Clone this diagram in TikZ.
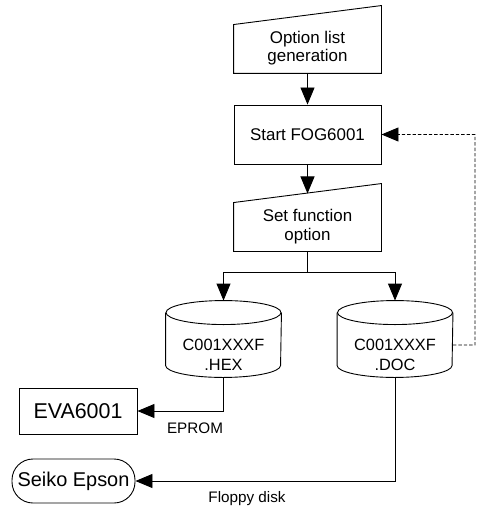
\documentclass[tikz,border=0pt]{standalone}
\usepackage{fontspec}
\setmainfont{Liberation Sans}
\usetikzlibrary{arrows.meta}
\tikzset{
  box/.style={draw=none, minimum width=147bp, inner sep=0pt, align=center, font=\fontsize{17}{18.5}\selectfont},
  cyl/.style={draw=none, minimum width=115bp, minimum height=76bp, inner sep=0pt},
  cyltext/.style={align=center, inner sep=0pt, font=\fontsize{16.4}{20}\selectfont},
  lbl/.style={inner sep=0pt, font=\fontsize{15.3}{17}\selectfont},
  arr/.style={-{Triangle[length=17bp,width=14bp]}},
  dsh/.style={dash pattern=on 3.4bp off 2bp},
}
\begin{document}
\begin{tikzpicture}[x=1bp,y=-1bp,line width=0.9bp,line join=miter]
\useasboundingbox (0,0) rectangle (481,508);
% option list generation
\node[box, minimum height=50bp] (opt) at (307.5,48) {Option list\\generation};
\draw ([yshift=-2bp]opt.north west) -- ([yshift=17bp]opt.north east) -- (opt.south east) -- (opt.south west) -- cycle;
% start
\node[box, draw, minimum height=59bp] (start) at (307.5,134.5) {Start FOG6001};
% set function option
\node[box, minimum height=49bp] (setf) at (307.5,226.5) {Set function\\option};
\draw ([yshift=-1bp]setf.north west) -- ([yshift=18bp]setf.north east) -- (setf.south east) -- (setf.south west) -- cycle;
\coordinate (setin) at (307.5,193.5);
% cylinders
\node[cyl] (hex) at (223.5,339) {};
\node[cyl] (doc) at (395,339) {};
\foreach \c in {hex,doc}{
  \draw ([yshift=-12bp]\c.north west) -- ([yshift=12bp]\c.south west)
        arc[start angle=180,end angle=360,x radius=57.5bp,y radius=12bp]
        -- ([yshift=-12bp]\c.north east);
  \draw ([yshift=-12bp]\c.north) ellipse[x radius=57.5bp,y radius=12bp];
}
\node[cyltext] (hext) at (223.5,355) {C001XXXF\\.HEX};
\node[cyltext] (doct) at (395,355) {C001XXXF\\.DOC};
% targets
\node[draw, minimum width=118bp, minimum height=46bp, inner sep=0pt, font=\fontsize{21.5}{24}\selectfont] (eva) at (78,411) {EVA6001};
\node[draw, rounded corners=21bp, minimum width=123bp, minimum height=44bp, inner sep=0pt, font=\fontsize{20}{22}\selectfont] (seiko) at (73.5,481) {Seiko Epson};
% connectors
\draw[arr] (opt.south) -- (start.north);
\draw[arr] (start.south) -- (setin);
\coordinate (br) at (307.5,272);
\draw (setf.south) -- (br);
\draw[arr] (br) -| (hex.north);
\draw[arr] (br) -| (doc.north);
\draw[arr] (hex.south) |- (eva.east);
\draw[arr] (doc.south) |- (seiko.east);
\coordinate (dr) at (475,345);
\draw[arr, dsh] ([yshift=-6bp]doc.east) -- (dr) |- (start.east);
% labels
\node[lbl] (eprom) at (195,428) {EPROM};
\node[lbl] (floppy) at (247,499) {Floppy disk};
\end{tikzpicture}
\end{document}
